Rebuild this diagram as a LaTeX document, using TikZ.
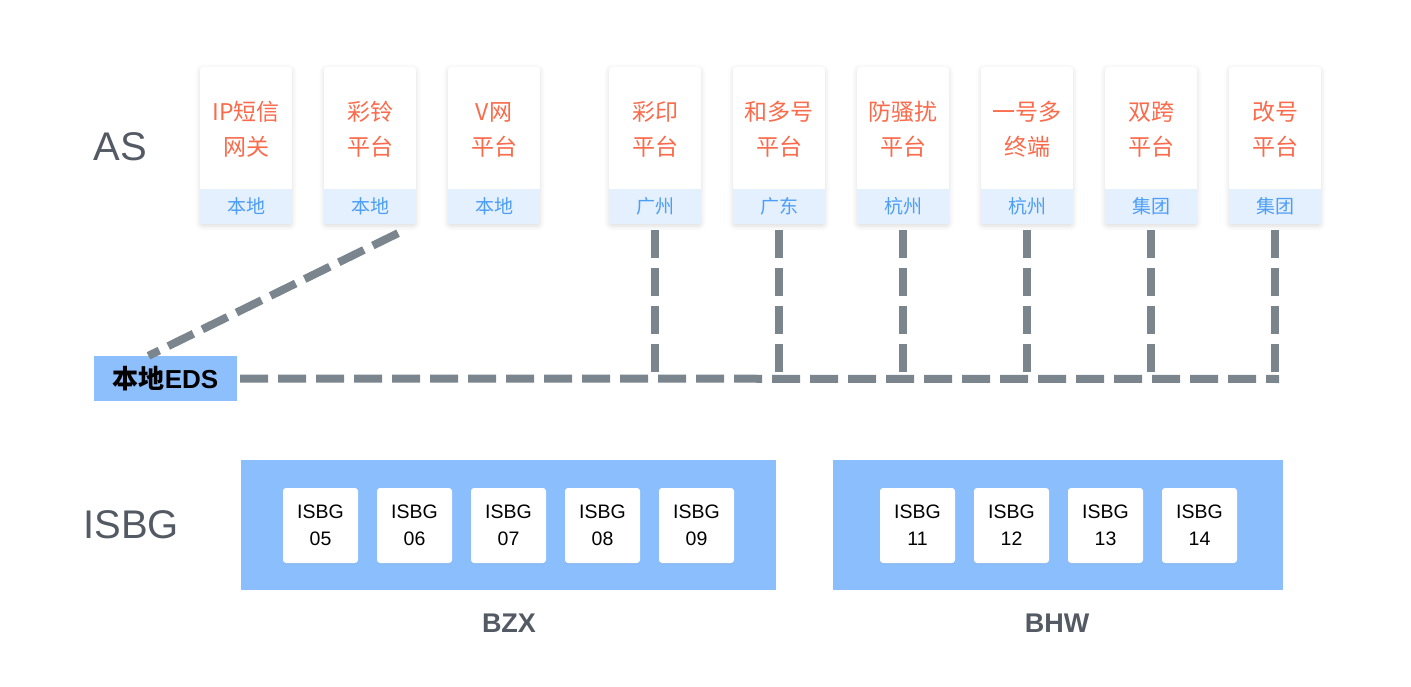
\documentclass[tikz,border=0pt]{standalone}
\usepackage{fontspec}
\setmainfont{Liberation Sans}
\newfontfamily\cjk{Noto Sans CJK SC}
\usepackage{tikz}
\usetikzlibrary{shadows,shadows.blur}
\definecolor{titlec}{HTML}{FA6B4B}
\definecolor{tagc}{HTML}{4D9EF6}
\definecolor{tagbg}{HTML}{E4F0FE}
\definecolor{edsc}{HTML}{8DBFFC}
\definecolor{groupc}{HTML}{8ABEFC}
\definecolor{linec}{HTML}{7B858E}
\definecolor{grayc}{HTML}{545A63}

\begin{document}
\begin{tikzpicture}[x=1pt,y=-1pt,
    card/.style={fill=white,rounded corners=3pt,minimum width=92pt,minimum height=157pt,inner sep=0pt,
        blur shadow={shadow xshift=0pt,shadow yshift=-2pt,shadow blur radius=5pt,shadow opacity=14}},
    tag/.style={fill=tagbg,minimum width=92pt,minimum height=35pt,inner sep=0pt,anchor=south,
        text=tagc,font=\cjk\fontsize{19}{19}\selectfont},
    title/.style={align=center,text=titlec,font=\cjk\fontsize{23}{35}\selectfont},
    link/.style={draw=linec,line width=8pt,dash pattern=on 28pt off 10pt},
    layer/.style={text=grayc,font=\fontsize{40}{40}\selectfont},
    group/.style={fill=groupc,minimum height=130pt,inner sep=0pt},
    isbg/.style={fill=white,rounded corners=3pt,minimum width=75pt,minimum height=75pt,inner sep=0pt,
        align=center,font=\fontsize{19.5}{27}\selectfont,
        drop shadow={opacity=0.08,shadow xshift=0pt,shadow yshift=-1.5pt}},
    groupname/.style={text=grayc,font=\bfseries\fontsize{27}{27}\selectfont}]
    \useasboundingbox (0,0) rectangle (1411,687);
    % layer names
    \node[layer] (as) at (120,147) {AS};
    \node[layer] (isbglayer) at (131,525) {ISBG};
    % AS cards
    \node[card] (ipsms) at (246,145.5) {};
    \node[tag] (ipsmst) at (ipsms.south) {本地};
    \node[title] at (246,129.5) {IP短信\\网关};
    \node[card] (cring) at (370,145.5) {};
    \node[tag] (cringt) at (cring.south) {本地};
    \node[title] at (370,129.5) {彩铃\\平台};
    \node[card] (vnet) at (494,145.5) {};
    \node[tag] (vnett) at (vnet.south) {本地};
    \node[title] at (494,129.5) {V网\\平台};
    \node[card] (cprint) at (655,145.5) {};
    \node[tag] (cprintt) at (cprint.south) {广州};
    \node[title] at (655,129.5) {彩印\\平台};
    \node[card] (multi) at (779,145.5) {};
    \node[tag] (multit) at (multi.south) {广东};
    \node[title] at (779,129.5) {和多号\\平台};
    \node[card] (antispam) at (903,145.5) {};
    \node[tag] (antispamt) at (antispam.south) {杭州};
    \node[title] at (903,129.5) {防骚扰\\平台};
    \node[card] (onenum) at (1027,145.5) {};
    \node[tag] (onenumt) at (onenum.south) {杭州};
    \node[title] at (1027,129.5) {一号多\\终端};
    \node[card] (dual) at (1151,145.5) {};
    \node[tag] (dualt) at (dual.south) {集团};
    \node[title] at (1151,129.5) {双跨\\平台};
    \node[card] (renum) at (1275,145.5) {};
    \node[tag] (renumt) at (renum.south) {集团};
    \node[title] at (1275,129.5) {改号\\平台};
    % EDS
    \node[fill=edsc,minimum width=143pt,minimum height=45pt,inner sep=0pt,
        font=\cjk\bfseries\fontsize{26}{26}\selectfont] (eds) at (165.5,378.5) {本地{\normalfont\bfseries EDS}};
    \coordinate (j1) at (655,379);
    \coordinate (j2) at (779,379);
    \coordinate (j3) at (903,379);
    \coordinate (j4) at (1027,379);
    \coordinate (j5) at (1151,379);
    \coordinate (j6) at (1275,379);
    \draw[link] ([xshift=28,yshift=-9]cringt.south) -- ([xshift=-17]eds.north);
    \draw[link] ([xshift=3]eds.east) -- ([xshift=4]j6);
    \draw[link] ([yshift=-6]cprintt.south) -- (j1);
    \draw[link] ([yshift=-6]multit.south) -- (j2);
    \draw[link] ([yshift=-6]antispamt.south) -- (j3);
    \draw[link] ([yshift=-6]onenumt.south) -- (j4);
    \draw[link] ([yshift=-6]dualt.south) -- (j5);
    \draw[link] ([yshift=-6]renumt.south) -- (j6);
    % ISBG groups
    \node[group,minimum width=535pt] (bzx) at (508.5,525) {};
    \node[group,minimum width=450pt] (bhw) at (1058,525) {};
    \node[isbg] (isbg05) at (320.5,525.5) {ISBG\\05};
    \node[isbg] (isbg06) at (414.5,525.5) {ISBG\\06};
    \node[isbg] (isbg07) at (508.5,525.5) {ISBG\\07};
    \node[isbg] (isbg08) at (602.5,525.5) {ISBG\\08};
    \node[isbg] (isbg09) at (696.5,525.5) {ISBG\\09};
    \node[isbg] (isbg11) at (917.5,525.5) {ISBG\\11};
    \node[isbg] (isbg12) at (1011.5,525.5) {ISBG\\12};
    \node[isbg] (isbg13) at (1105.5,525.5) {ISBG\\13};
    \node[isbg] (isbg14) at (1199.5,525.5) {ISBG\\14};
    \node[groupname] (bzxname) at (509,623) {BZX};
    \node[groupname] (bhwname) at (1057,623) {BHW};
\end{tikzpicture}
\end{document}
